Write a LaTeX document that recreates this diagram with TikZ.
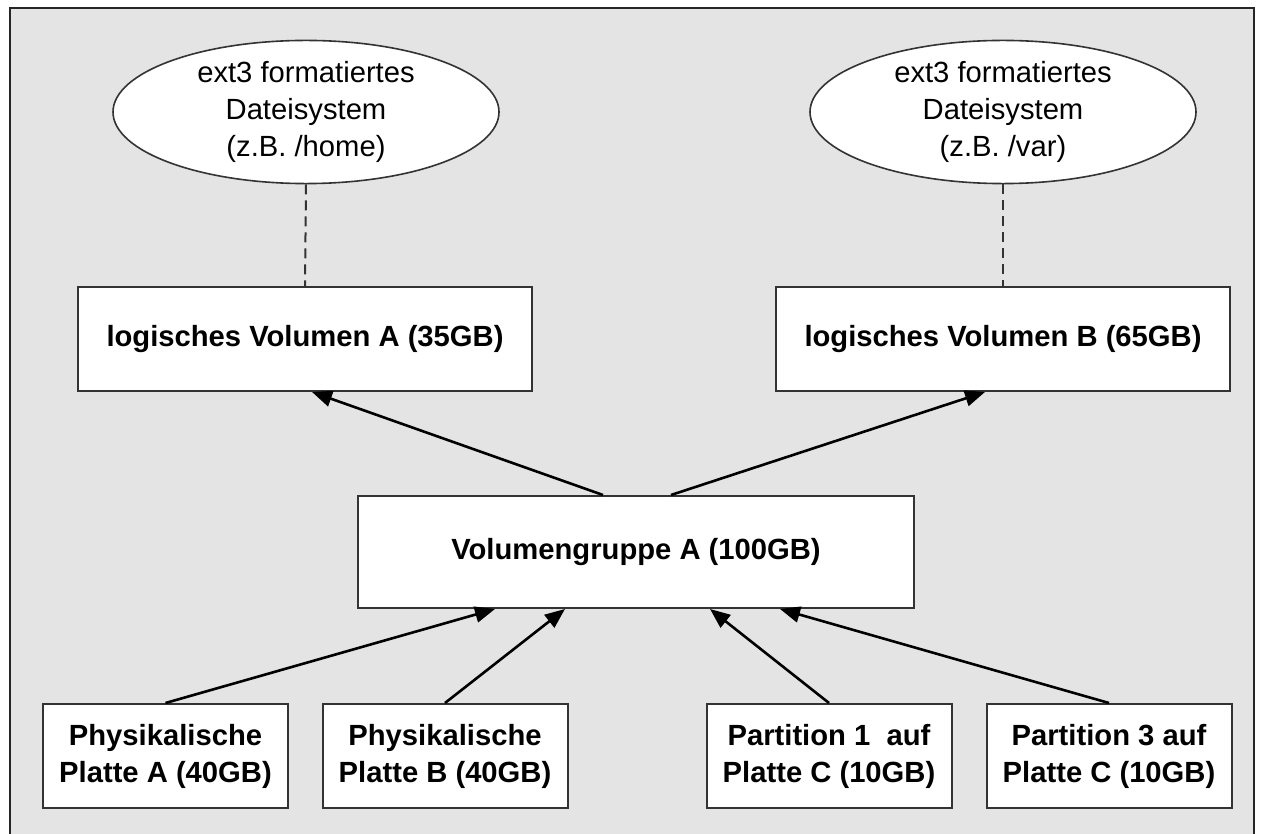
\documentclass[tikz,border=0pt]{standalone}
\usepackage{fontspec}
\setmainfont{Liberation Sans}
\usetikzlibrary{shapes.geometric,arrows.meta}
\definecolor{bggray}{HTML}{E4E4E4}
\definecolor{framegray}{HTML}{333333}

\begin{document}
\begin{tikzpicture}
[x=0.5pt, y=-0.5pt, font=\fontsize{14.6}{18.5}\selectfont, line width=1pt,
fsys/.style={ellipse, draw=framegray, fill=white, line width=0.8pt, inner sep=0pt, minimum width=193pt, minimum height=69.5pt, align=center},
lvol/.style={rectangle, draw=framegray, fill=white, inner sep=0pt, minimum width=227pt, minimum height=52pt, font=\fontsize{14.6}{18.5}\selectfont\bfseries},
vgrp/.style={rectangle, draw=framegray, fill=white, inner sep=0pt, minimum width=278pt, minimum height=56pt, font=\fontsize{14.6}{18.5}\selectfont\bfseries},
pdisk/.style={rectangle, draw=framegray, fill=white, inner sep=0pt, minimum width=122.5pt, minimum height=52pt, align=center, font=\fontsize{14.6}{18.5}\selectfont\bfseries},
link/.style={-{Triangle[length=10pt,width=8pt]}, line width=1.3pt}]

\useasboundingbox (0,0) rectangle (1264,834);
\fill[white] (0,0) rectangle (1264,834);
\fill[bggray] (10,8) rectangle (1254,834);
\draw[black!85, line width=1.1pt] (10,834) -- (10,8) -- (1254,8) -- (1254,834);

\node[fsys] (fshome) at (306,112) {ext3 formatiertes\\Dateisystem\\(z.B. /home)};
\node[fsys] (fsvar) at (1003,112) {ext3 formatiertes\\Dateisystem\\(z.B. /var)};

\node[lvol] (lva) at (305,339) {logisches Volumen A (35GB)};
\node[lvol] (lvb) at (1003,339) {logisches Volumen B (65GB)};

\node[vgrp] (vga) at (636,552) {Volumengruppe A (100GB)};

\node[pdisk] (pda) at (165.5,756) {Physikalische\\Platte A (40GB)};
\node[pdisk] (pdb) at (445,756) {Physikalische\\Platte B (40GB)};
\node[pdisk] (pc1) at (829,756) {Partition 1\ \ auf\\Platte C (10GB)};
\node[pdisk] (pc3) at (1109,756) {Partition 3 auf\\Platte C (10GB)};

\draw[framegray, dash pattern=on 5pt off 3pt] (fshome.south) -- (lva.north);
\draw[framegray, dash pattern=on 5pt off 3pt] (fsvar.south) -- (lvb.north);

\draw[link] ([xshift=-16.5pt]vga.north) -- ([xshift=3.5pt]lva.south);
\draw[link] ([xshift=17.5pt]vga.north) -- ([xshift=-9pt]lvb.south);

\draw[link] (pda.north) -- ([xshift=-70.5pt]vga.south);
\draw[link] (pdb.north) -- ([xshift=-35.5pt]vga.south);
\draw[link] (pc1.north) -- ([xshift=37pt]vga.south);
\draw[link] (pc3.north) -- ([xshift=72pt]vga.south);
\end{tikzpicture}
\end{document}
